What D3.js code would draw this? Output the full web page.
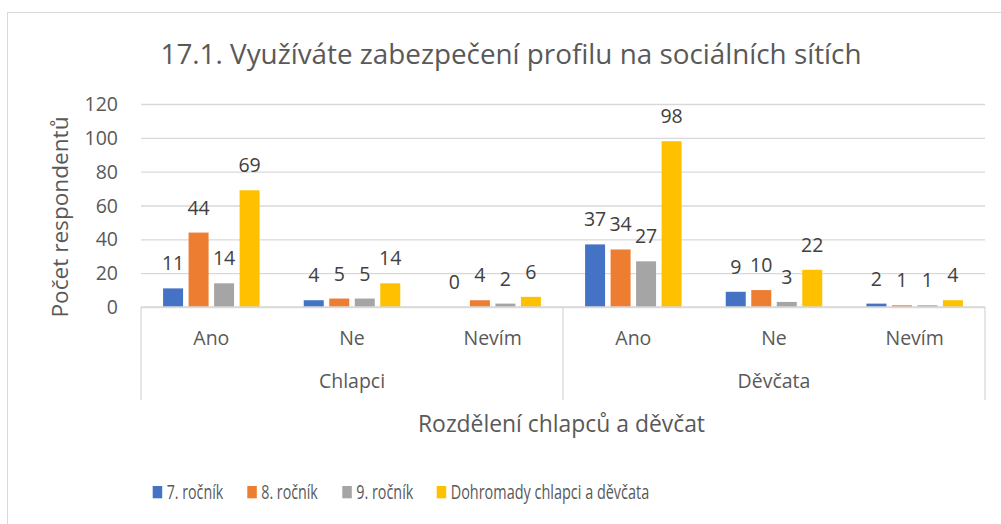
<!DOCTYPE html>
<html><head><meta charset="utf-8">
<script src="https://cdn.jsdelivr.net/npm/d3@7"></script>
<style>html,body{margin:0;padding:0;background:#fff;}svg{display:block;font-family:"Open Sans",sans-serif;}</style>
</head><body>
<svg id="c" width="1001" height="524"></svg>
<script>
const title = "17.1. Využíváte zabezpečení profilu na sociálních sítích";
const yTitle = "Počet respondentů";
const xTitle = "Rozdělení chlapců a děvčat";
const groups = ["Chlapci", "Děvčata"];
const answers = ["Ano", "Ne", "Nevím"];
const series = ["7. ročník", "8. ročník", "9. ročník", "Dohromady chlapci a děvčata"];
const colors = ["#4472C4", "#ED7D31", "#A5A5A5", "#FFC000"];
const yTicks = [0, 20, 40, 60, 80, 100, 120];
// values per category (group x answer), per series
const v7  = [11, 4, 0, 37, 9, 2];
const v8  = [44, 5, 4, 34, 10, 1];
const v9  = [14, 5, 2, 27, 3, 1];
const vAll = [69, 14, 6, 98, 22, 4];

const seriesValues = [v7, v8, v9, vAll];
const cats = [];
groups.forEach(g => answers.forEach(a => cats.push(g + "|" + a)));

const svg = d3.select("#c");
const grid = "#D9D9D9";
const txt = "#595959";

function fit(sel, w) {
  sel.attr("textLength", w).attr("lengthAdjust", "spacingAndGlyphs");
}

// chart border
svg.append("rect").attr("x", 7.5).attr("y", 12.5).attr("width", 1010).attr("height", 530)
  .attr("fill", "none").attr("stroke", grid).attr("stroke-width", 1);

const pL = 141, pR = 985, pT = 104, pB = 307;
const y = d3.scaleLinear().domain([0, 120]).range([pB, pT]);
const x0 = d3.scaleBand().domain(cats).range([pL, pR]).padding(0);
const x1 = d3.scaleBand().domain(series).range([0, x0.bandwidth()]).paddingInner(0.216).paddingOuter(0.866);

// gridlines
const yAxis = d3.axisLeft(y).tickValues(yTicks).tickSize(-(pR - pL)).tickPadding(23);
const ga = svg.append("g").attr("transform", `translate(${pL},0)`).call(yAxis);
ga.select(".domain").remove();
ga.selectAll(".tick line").attr("stroke", grid).attr("stroke-width", 1.3);
ga.selectAll(".tick text").attr("fill", txt).attr("font-size", 19.5).attr("font-family", "Open Sans").attr("dy", "0.34em");

// bars
series.forEach((s, si) => {
  svg.append("g").selectAll("rect").data(seriesValues[si]).join("rect")
    .attr("x", (d, i) => x0(cats[i]) + x1(s))
    .attr("y", d => y(d))
    .attr("width", x1.bandwidth())
    .attr("height", d => y(0) - y(d))
    .attr("fill", colors[si]);
  svg.append("g").selectAll("text").data(seriesValues[si]).join("text")
    .attr("x", (d, i) => x0(cats[i]) + x1(s) + x1.bandwidth() / 2)
    .attr("y", d => y(d) - 18)
    .attr("text-anchor", "middle")
    .attr("fill", "#404040").attr("font-size", 19.5)
    .text(d => d);
});

// category axis lines
svg.append("line").attr("x1", pL).attr("x2", pR).attr("y1", pB).attr("y2", pB)
  .attr("stroke", grid).attr("stroke-width", 1.3);
const gx = d3.scaleBand().domain(groups).range([pL, pR]);
[pL, gx("Děvčata"), pR].forEach(px => {
  svg.append("line").attr("x1", px).attr("x2", px).attr("y1", pB).attr("y2", 400)
    .attr("stroke", grid).attr("stroke-width", 1.3);
});
svg.append("g").selectAll("text").data(cats).join("text")
  .attr("x", d => x0(d) + x0.bandwidth() / 2)
  .attr("y", 345)
  .attr("text-anchor", "middle").attr("fill", txt).attr("font-size", 19.5)
  .text(d => d.split("|")[1]);
svg.append("g").selectAll("text").data(groups).join("text")
  .attr("x", d => gx(d) + gx.bandwidth() / 2)
  .attr("y", 388)
  .attr("text-anchor", "middle").attr("fill", txt).attr("font-size", 19.5)
  .text(d => d);

// titles
const t = svg.append("text").attr("x", 511).attr("y", 63.5).attr("text-anchor", "middle")
  .attr("fill", txt).attr("font-size", 28).text(title);
fit(t, 701);
const xt = svg.append("text").attr("x", 561.5).attr("y", 431.5).attr("text-anchor", "middle")
  .attr("fill", txt).attr("font-size", 23).text(xTitle);
fit(xt, 287);
const yt = svg.append("text").attr("transform", "translate(68,217) rotate(-90)").attr("text-anchor", "middle")
  .attr("fill", txt).attr("font-size", 22).text(yTitle);
fit(yt, 201);

// legend
const legX = [152.7, 247.3, 342.3, 436.7];
const legW = [56.5, 56.5, 57, 198.5];
series.forEach((s, i) => {
  svg.append("rect").attr("x", legX[i]).attr("y", 486).attr("width", 9.5).attr("height", 12.3).attr("fill", colors[i]);
  const lt = svg.append("text").attr("x", legX[i] + 14).attr("y", 499).attr("fill", txt).attr("font-size", 20).text(s);
  fit(lt, legW[i]);
});
</script>
</body></html>
